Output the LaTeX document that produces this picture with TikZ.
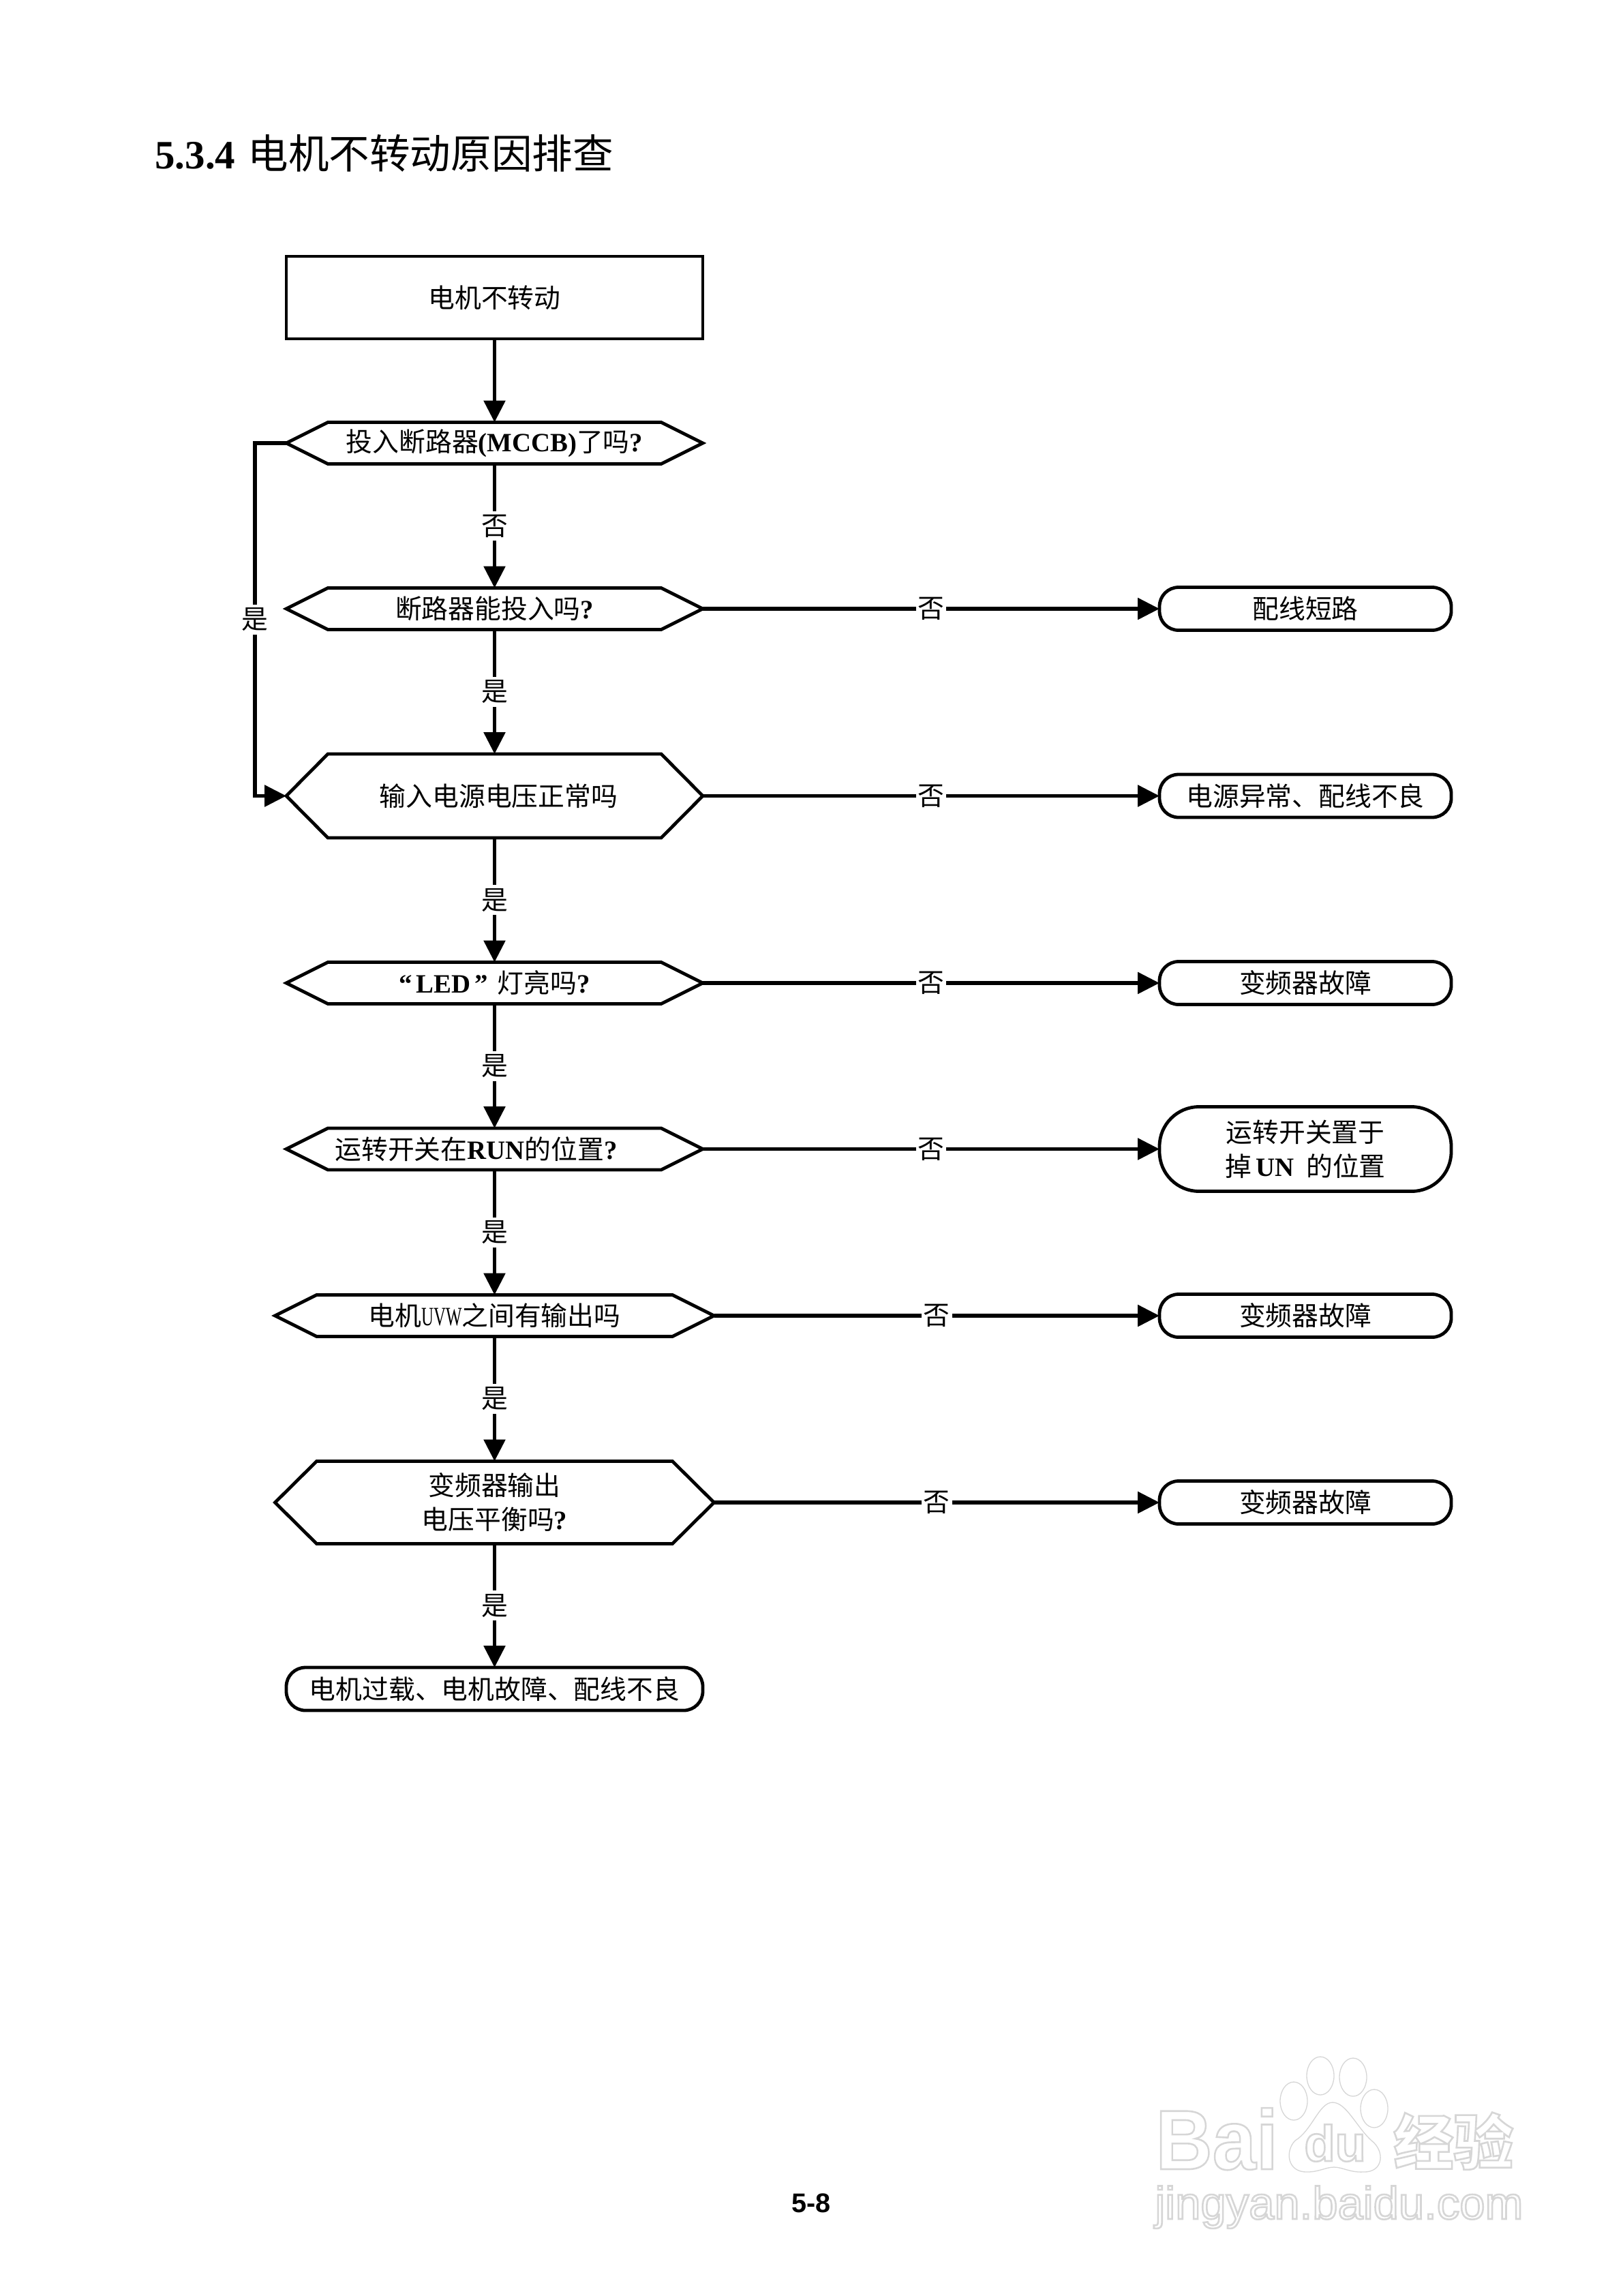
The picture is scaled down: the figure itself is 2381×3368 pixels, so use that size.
\documentclass[tikz,border=0pt]{standalone}
\usepackage{fontspec}
\usepackage{graphicx}
\usetikzlibrary{arrows.meta}
\setmainfont{Liberation Serif}
\newfontfamily\cj{Noto Sans CJK SC}
\newfontfamily\latb{Liberation Serif Bold}
\newfontfamily\latr{Liberation Serif}
\newfontfamily\sansb{Liberation Sans Bold}
\newfontfamily\sansr{Liberation Sans}
\newcommand\wmon{\special{pdf:code 1 Tr 0.84 G 1.3 w}}
\newcommand\wmoff{\special{pdf:code 0 Tr 0 G}}
\newcommand\hexnode[7]{%
  \node[hexbox,minimum width=#4*0.5pt,minimum height=#5*0.5pt] (#1) at (#2,#3) {#7};
  \draw[outl] (#1.west)--([xshift=#6*0.5pt]#1.north west)--([xshift=-#6*0.5pt]#1.north east)--(#1.east)--([xshift=-#6*0.5pt]#1.south east)--([xshift=#6*0.5pt]#1.south west)--cycle;}
\tikzset{
  x=0.5pt,y=-0.5pt,
  txt/.style={font=\cj\fontsize{19.4}{25}\selectfont,align=center,text=black},
  hexbox/.style={txt,inner sep=0pt,outer sep=0pt},
  outl/.style={line width=2.4pt,line join=miter,draw=black},
  termbox/.style={txt,draw=black,line width=2.4pt,inner sep=0pt,outer sep=0pt,minimum width=214pt,minimum height=31.5pt,rounded corners=14pt},
  startbox/.style={txt,draw=black,line width=2.4pt,inner sep=0pt,outer sep=0pt},
  conn/.style={line width=2.9pt,draw=black,-{Triangle[length=16pt,width=15.5pt]}},
  lab/.style={txt,fill=white,inner xsep=1.5pt,inner ysep=2.5pt,midway},
  wmtext/.style={inner sep=0pt,anchor=base west},
  wmline/.style={draw=black!16,line width=0.65pt}
}
\begin{document}
\begin{tikzpicture}
\useasboundingbox (0,0) rectangle (2381,3368);
\fill[white] (0,0) rectangle (2381,3368);
\node[inner sep=0pt,anchor=base west,text=black] (title) at (227,247) {\fontsize{29.5}{32}\selectfont\latb 5.3.4\hspace{9pt}\fontsize{29.8}{32}\selectfont\cj 电机不转动原因排查};
\node[startbox,minimum width=305.5pt,minimum height=60.5pt] (start) at (725.5,436.5) {电机不转动};
\hexnode{h1}{725.5}{650}{611}{61}{61}{投入断路器{\latb (MCCB)}了吗{\latb ?}}
\hexnode{h2}{725.5}{893}{611}{61}{61}{断路器能投入吗{\latb ?}}
\hexnode{h3}{725.5}{1167.5}{611}{123}{61}{\hspace{6pt}输入电源电压正常吗}
\hexnode{h4}{725.5}{1442}{611}{61}{61}{{\latb “\hspace{3pt}LED\hspace{3pt}”}\hspace{7pt}灯亮吗{\latb ?}}
\hexnode{h5}{725.5}{1685.5}{611}{61}{61}{运转开关在{\latb RUN}的位置{\latb ?}\hspace{27pt}}
\hexnode{h6}{725.5}{1930}{644}{61}{61}{电机{\latr\scalebox{0.64}[1]{UVW}}之间有输出吗}
\hexnode{h7}{725.5}{2204}{644}{121}{61}{变频器输出\\电压平衡吗{\latb ?}}
\node[termbox] (r1) at (1915,893) {配线短路};
\node[termbox] (r2) at (1915,1167.5) {电源异常、配线不良};
\node[termbox] (r3) at (1915,1442) {变频器故障};
\node[termbox,minimum height=62pt,rounded corners=29pt] (r4) at (1915,1685.5) {运转开关置于\\掉\hspace{3pt}{\latb UN}\hspace{9pt}的位置};
\node[termbox] (r5) at (1915,1930) {变频器故障};
\node[termbox] (r6) at (1915,2204) {变频器故障};
\node[termbox,minimum width=305.5pt] (e) at (725.5,2477.5) {电机过载、电机故障、配线不良};
\coordinate (c1) at (374,650);
\coordinate (c2) at (374,1167.5);
\draw[conn] (start) -- (h1);
\draw[conn] (h1) -- node[lab] (l1) {否} (h2);
\draw[conn] (h2) -- node[lab] (l2) {是} (h3);
\draw[conn] (h3) -- node[lab] (l3) {是} (h4);
\draw[conn] (h4) -- node[lab] (l4) {是} (h5);
\draw[conn] (h5) -- node[lab] (l5) {是} (h6);
\draw[conn] (h6) -- node[lab] (l6) {是} (h7);
\draw[conn] (h7) -- node[lab] (l7) {是} (e);
\draw[conn] (h1.west) -- (c1) -- node[lab] (l8) {是} (c2) -- (h3.west);
\draw[conn] (h2.east) -- node[lab] (n1) {否} (r1.west);
\draw[conn] (h3.east) -- node[lab] (n2) {否} (r2.west);
\draw[conn] (h4.east) -- node[lab] (n3) {否} (r3.west);
\draw[conn] (h5.east) -- node[lab] (n4) {否} (r4.west);
\draw[conn] (h6.east) -- node[lab] (n5) {否} (r5.west);
\draw[conn] (h7.east) -- node[lab] (n6) {否} (r6.west);
\node[inner sep=0pt,anchor=base west,text=black] (pg) at (1161,3245) {\sansb\fontsize{19.8}{22}\selectfont 5-8};
% watermark
\draw[wmline] (1937,3045) ellipse (20 and 28);
\draw[wmline] (1985,3047) ellipse (20 and 28);
\draw[wmline] (1898,3082) ellipse (20 and 28);
\draw[wmline] (2016,3093) ellipse (20 and 28);
\draw[wmline] (1955,3084) .. controls (1935,3084) and (1925,3125) .. (1900,3140) .. controls (1885,3155) and (1888,3187) .. (1918,3186) .. controls (1935,3186) and (1945,3179) .. (1957,3179) .. controls (1970,3179) and (1980,3187) .. (2000,3186) .. controls (2030,3187) and (2032,3155) .. (2012,3140) .. controls (1990,3120) and (1975,3084) .. (1955,3084) -- cycle;
\node[wmtext,xscale=0.93,transform shape] (wm1) at (1695,3182) {\sansb\fontsize{62}{62}\selectfont\wmon Bai\wmoff};
\node[wmtext] (wm2) at (1913,3170) {\sansb\fontsize{37}{37}\selectfont\wmon du\wmoff};
\node[wmtext] (wm3) at (2044,3175) {\fontsize{44}{44}\selectfont\cj\bfseries\wmon 经验\wmoff};
\node[wmtext] (wm4) at (1694,3255) {\sansr\fontsize{33.5}{34}\selectfont\wmon jingyan.baidu.com\wmoff};
\end{tikzpicture}
\end{document}
